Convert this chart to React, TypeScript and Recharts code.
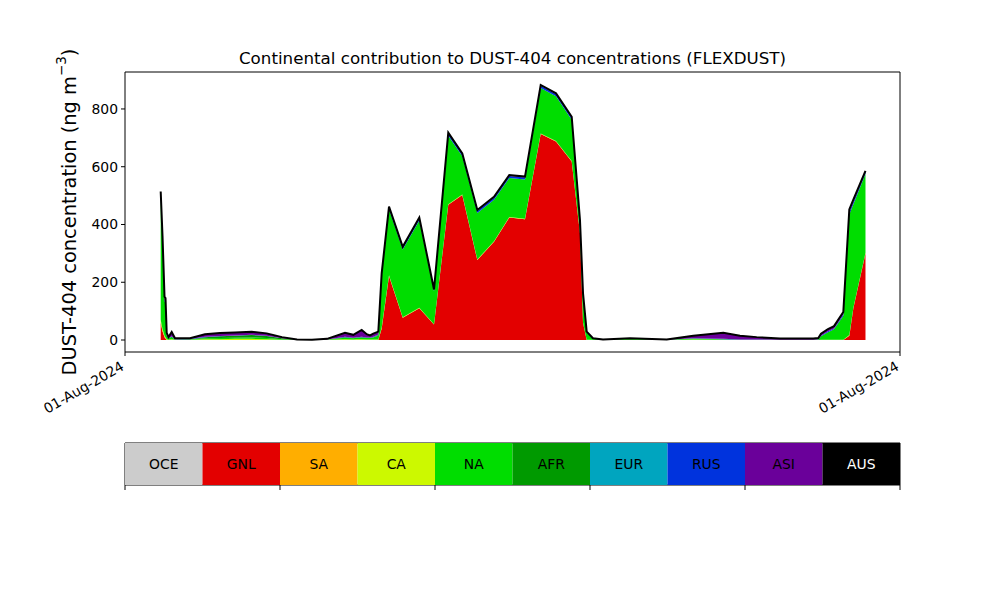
import React from 'react';
import { ComposedChart, Area, Line, XAxis, YAxis, ReferenceArea, BarChart, Bar, Label } from 'recharts';

// time in hours from axis start
const HOURS = [6.91, 7.26, 7.65, 7.84, 8.07, 8.42, 9.04, 9.68, 12.58, 15.48, 18.39, 21.29, 24.52, 27.43, 30.39, 33.29, 36.19, 39.1, 42.58, 44.19, 44.84, 45.81, 46.78, 47.42, 48.06, 49.03, 49.68, 51.1, 53.75, 56.96, 59.81, 62.57, 65.28, 68.19, 71.42, 74.38, 77.42, 80.46, 83.42, 86.46, 88.06, 88.65, 89.36, 90.58, 92.52, 97.74, 104.85, 109.99, 115.8, 119.03, 122.26, 126.77, 133.22, 134.19, 134.71, 136.06, 137.23, 139.03, 140.19, 140.97, 143.32];
const GNL = [60, 30, 10, 5, 0, 0, 0, 0, 0, 0, 0, 0, 0, 0, 0, 0, 0, 0, 0, 0, 0, 0, 0, 0, 0, 0, 40, 222, 77, 110, 54, 468, 502, 277, 340, 424, 418, 713, 687, 618, 370, 60, 0, 0, 0, 0, 0, 0, 0, 0, 0, 0, 0, 0, 0, 0, 0, 0, 15, 110, 300];
const CA = [10, 8, 5, 5, 3, 1, 3, 1, 1, 3, 3, 4, 4, 3, 1, 0, 0, 1, 3, 2, 3, 3, 2, 2, 2, 2, 3, 2, 2, 2, 1, 2, 2, 2, 2, 2, 2, 2, 2, 2, 1, 1, 1, 1, 0, 1, 0, 2, 1, 0, 0, 0, 0, 0, 1, 1, 1, 1, 2, 2, 2];
const NA = [420, 300, 120, 115, 12, 4, 8, 1, 1, 3, 4, 4, 5, 4, 2, 1, 0, 1, 5, 4, 5, 5, 5, 5, 7, 14, 180, 228, 234, 302, 114, 237, 132, 161, 144, 135, 136, 158, 155, 143, 38, 95, 24, 3, 1, 3, 1, 3, 2, 1, 1, 1, 1, 2, 12, 26, 36, 83, 418, 358, 274];
const AFR = [0, 0, 0, 0, 0, 0, 0, 0, 1, 4, 6, 7, 8, 7, 3, 0, 0, 0, 2, 1, 1, 2, 1, 1, 1, 1, 0, 0, 0, 0, 0, 0, 0, 0, 0, 0, 0, 0, 0, 0, 0, 0, 0, 0, 0, 0, 0, 0, 0, 0, 0, 0, 0, 0, 0, 0, 0, 0, 0, 0, 0];
const RUS = [10, 8, 5, 5, 2, 1, 2, 1, 1, 1, 1, 1, 1, 1, 0, 0, 0, 0, 1, 1, 1, 1, 1, 1, 1, 2, 4, 7, 7, 7, 4, 8, 7, 7, 7, 7, 7, 7, 7, 7, 4, 4, 2, 1, 0, 0, 0, 1, 1, 1, 1, 0, 0, 1, 2, 3, 3, 5, 8, 8, 6];
const ASI = [14, 14, 10, 15, 8, 4, 15, 3, 2, 9, 10, 10, 11, 8, 4, 1, 1, 2, 14, 10, 15, 24, 11, 7, 11, 10, 4, 3, 3, 3, 2, 3, 3, 3, 3, 3, 3, 3, 3, 3, 2, 2, 2, 1, 1, 2, 1, 9, 21, 13, 8, 4, 4, 4, 7, 8, 8, 8, 9, 8, 4];
const TOTAL = [514, 360, 150, 145, 25, 10, 28, 6, 6, 20, 24, 26, 29, 23, 10, 2, 1, 4, 25, 18, 25, 35, 20, 16, 22, 29, 231, 462, 323, 424, 175, 718, 646, 450, 496, 571, 566, 883, 854, 773, 415, 162, 29, 6, 2, 6, 2, 15, 25, 15, 10, 5, 5, 7, 22, 38, 48, 97, 452, 486, 586];

const Y_TICKS = [0, 200, 400, 600, 800];
const X_TICKS = [0, 150];
const X_TICK_LABEL = '01-Aug-2024';

const REGIONS = ['OCE', 'GNL', 'SA', 'CA', 'NA', 'AFR', 'EUR', 'RUS', 'ASI', 'AUS'];
const REGION_COLORS = ['#cccccc', '#e30000', '#ffae00', '#ccf900', '#00dd00', '#009a00', '#00a5bf', '#0033dd', '#6a009a', '#000000'];
const LEGEND_WIDTHS = [1, 1, 1, 1, 1, 1, 1, 1, 1, 1];
const LEGEND_TICKS = [0, 2, 4, 6, 8, 10];

const SERIES: [string, number[]][] = [
  ['GNL', GNL], ['CA', CA], ['NA', NA], ['AFR', AFR], ['RUS', RUS], ['ASI', ASI],
];

const data = HOURS.map((h, i) => {
  const row: Record<string, number> = { h, TOTAL: TOTAL[i] };
  SERIES.forEach(([k, arr]) => { row[k] = arr[i]; });
  return row;
});

const legendRow: Record<string, any> = { name: 'regions' };
REGIONS.forEach((r, i) => { legendRow[r] = LEGEND_WIDTHS[i]; });

const colorOf = (k: string) => REGION_COLORS[REGIONS.indexOf(k)];
const FONT = "'DejaVu Sans', 'Liberation Sans', sans-serif";

const XTick = (props: any) => {
  const { x, y } = props;
  return (
    <g transform={`translate(${x},${y + 11})`}>
      <text x={0} y={0} textAnchor="end" transform="rotate(-30)" fontSize={13.9} fill="#000" fontFamily={FONT}>
        {X_TICK_LABEL}
      </text>
    </g>
  );
};

export default function App() {
  return (
    <div style={{ position: 'absolute', left: 0, top: 0, width: 1000, height: 600, background: '#fff', fontFamily: FONT }}>
      <div style={{ position: 'absolute', left: 125, top: 48, width: 775, textAlign: 'center', fontSize: 16.7, lineHeight: '20px', color: '#000' }}>
        Continental contribution to DUST-404 concentrations (FLEXDUST)
      </div>
      <div style={{ position: 'absolute', left: 0, top: 0 }}>
        <ComposedChart width={1000} height={600} data={data} margin={{ top: 72, right: 100, bottom: 188, left: 65 }}>
          <XAxis dataKey="h" type="number" domain={[0, 150]} ticks={X_TICKS} allowDataOverflow
            height={60} tick={<XTick />} tickSize={4} tickMargin={2} axisLine={false} tickLine={{ stroke: '#000' }} />
          <YAxis type="number" domain={[-41.5, 928]} ticks={Y_TICKS} allowDataOverflow width={60}
            tickSize={4} tickMargin={3} axisLine={false} tickLine={{ stroke: '#000' }}
            tick={{ fill: '#000', fontSize: 13.9, fontFamily: FONT }}>
            <Label content={() => (
              <text x={69} y={212} transform="rotate(-90, 69, 212)" textAnchor="middle" dominantBaseline="central"
                fontSize={19.4} fill="#000" fontFamily={FONT}>
                DUST-404 concentration (ng m<tspan fontSize={13.5} dy={-8}>−3</tspan><tspan dy={8}>)</tspan>
              </text>
            )} />
          </YAxis>
          {SERIES.map(([k]) => (
            <Area key={k} type="linear" dataKey={k} stackId="s" fill={colorOf(k)} fillOpacity={1}
              stroke="none" isAnimationActive={false} dot={false} activeDot={false} />
          ))}
          <Line type="linear" dataKey="TOTAL" stroke="#000" strokeWidth={2} dot={false} activeDot={false} isAnimationActive={false} />
          <ReferenceArea x1={0} x2={150} fill="none" stroke="#000" strokeWidth={1} ifOverflow="visible" />
        </ComposedChart>
      </div>
      <div style={{ position: 'absolute', left: 0, top: 430 }}>
        <BarChart layout="vertical" width={1000} height={80} data={[legendRow]}
          margin={{ top: 13, right: 100, bottom: 0, left: 125 }} barCategoryGap={0}>
          <XAxis type="number" domain={[0, 10]} ticks={LEGEND_TICKS} tickFormatter={() => ''} height={25}
            tickSize={5} axisLine={false} tickLine={{ stroke: '#000' }} />
          <YAxis type="category" dataKey="name" hide />
          {REGIONS.map((r, i) => (
            <Bar key={r} dataKey={r} stackId="l" fill={REGION_COLORS[i]} isAnimationActive={false}
              label={(p: any) => (
                <text x={p.x + p.width / 2} y={p.y + p.height / 2} textAnchor="middle" dominantBaseline="central"
                  fontSize={13.9} fill={r === 'AUS' ? '#fff' : '#000'} fontFamily={FONT}>{r}</text>
              )} />
          ))}
          <ReferenceArea x1={0} x2={10} fill="none" stroke="#000" strokeWidth={1} ifOverflow="visible" />
        </BarChart>
      </div>
    </div>
  );
}
